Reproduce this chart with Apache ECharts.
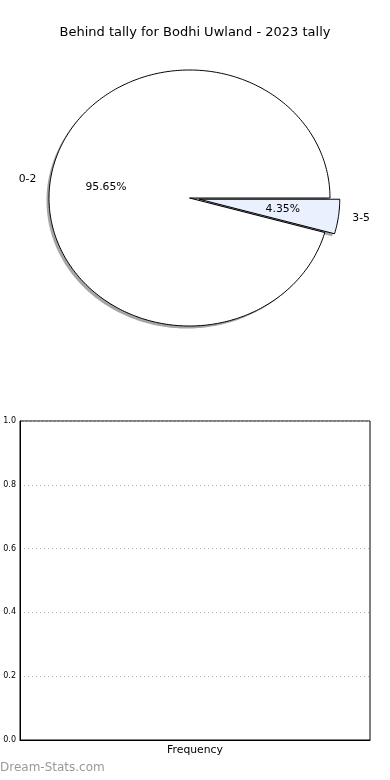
<!DOCTYPE html>
<html>
<head>
<meta charset="utf-8">
<script src="https://cdn.jsdelivr.net/npm/echarts@6/dist/echarts.min.js"></script>
<style>
html,body{margin:0;padding:0;background:#fff;}
#chart{width:390px;height:780px;}
</style>
</head>
<body>
<div id="chart"></div>
<script>
// ---- data ----
const titleText = 'Behind tally for Bodhi Uwland - 2023 tally';
const categories = ['0-2', '3-5'];
const counts = [22, 1];
const sliceColors = ['#ffffff', '#eaf0fe'];
const explode = [0, 0.07];
const yTicks = [0, 0.2, 0.4, 0.6, 0.8, 1.0];
const xLabel = 'Frequency';
const watermark = 'Dream-Stats.com';

// ---- layout ----
const FONT = 'DejaVu Sans';
const cx = 189.5, cy = 198, rx = 140.5, ry = 128;
const shadowDX = -2.5, shadowDY = 2.5;
const total = counts.reduce((a, b) => a + b, 0);

function pt(angDeg, r, ox, oy) {
  const a = angDeg * Math.PI / 180;
  return [cx + ox + r * rx * Math.cos(a), cy + oy - r * ry * Math.sin(a)];
}

function renderSlice(params, api) {
  const i = params.dataIndex;
  let start = 0;
  for (let k = 0; k < i; k++) start += counts[k] / total * 360;
  const sweep = api.value(1) / total * 360;
  const end = start + sweep;
  const mid = (start + end) / 2;
  const m = mid * Math.PI / 180;
  const ox = explode[i] * rx * Math.cos(m);
  const oy = -explode[i] * ry * Math.sin(m);
  const pts = [[cx + ox, cy + oy]];
  const steps = Math.max(2, Math.ceil(sweep));
  for (let s = 0; s <= steps; s++) {
    pts.push(pt(start + sweep * s / steps, 1, ox, oy));
  }
  const shadowPts = pts.map(p => [p[0] + shadowDX, p[1] + shadowDY]);
  const lab = pt(mid, 1.1, ox, oy);
  const pct = pt(mid, 0.6, ox, oy);
  const right = Math.cos(m) > 0;
  const pctText = (api.value(1) / total * 100).toFixed(2) + '%';
  return {
    type: 'group',
    children: [
      { type: 'polygon', shape: { points: shadowPts }, style: { fill: 'rgba(77,77,77,0.5)' }, z2: 0 },
      { type: 'polygon', shape: { points: pts }, style: { fill: sliceColors[i], stroke: '#000', lineWidth: 1, lineJoin: 'round' }, z2: 1 },
      { type: 'text', style: { text: categories[i], x: lab[0], y: lab[1], align: right ? 'left' : 'right', verticalAlign: 'middle', fontSize: 10.8, fontFamily: FONT, fill: '#000' }, z2: 2 },
      { type: 'text', style: { text: pctText, x: pct[0], y: pct[1], align: 'center', verticalAlign: 'middle', fontSize: 10.8, fontFamily: FONT, fill: '#000' }, z2: 2 }
    ]
  };
}

const chart = echarts.init(document.getElementById('chart'), null, { renderer: 'canvas' });
chart.setOption({
  animation: false,
  backgroundColor: '#fff',
  title: {
    text: titleText, left: 'center', top: 21,
    textStyle: { fontFamily: FONT, fontSize: 13, fontWeight: 'normal', color: '#000' }
  },
  grid: { left: 20, top: 421, width: 350, height: 319, show: true, borderColor: '#000', borderWidth: 1, backgroundColor: 'transparent' },
  xAxis: {
    type: 'category', data: [''],
    name: xLabel, nameLocation: 'middle', nameGap: 5,
    nameTextStyle: { fontFamily: FONT, fontSize: 10.8, color: '#000' },
    axisLine: { show: true, lineStyle: { color: '#000', width: 1 } },
    axisTick: { show: false }, axisLabel: { show: false }, splitLine: { show: false }
  },
  yAxis: {
    type: 'value', min: yTicks[0], max: yTicks[yTicks.length - 1], interval: 0.2,
    axisLine: { show: true, lineStyle: { color: '#000', width: 1 } },
    axisTick: { show: false },
    axisLabel: { fontFamily: FONT, fontSize: 8, color: '#000', margin: 4, formatter: v => v.toFixed(1) },
    splitLine: { show: true, lineStyle: { color: '#b0b0b0', type: [1, 3], width: 1 } }
  },
  graphic: [
    { type: 'text', left: 0, top: 762, style: { text: watermark, fontFamily: FONT, fontSize: 12, fontWeight: 'normal', fill: '#999999' } }
  ],
  series: [
    { type: 'custom', coordinateSystem: 'none', renderItem: renderSlice, data: categories.map((c, i) => [i, counts[i]]), silent: true }
  ]
});
</script>
</body>
</html>
